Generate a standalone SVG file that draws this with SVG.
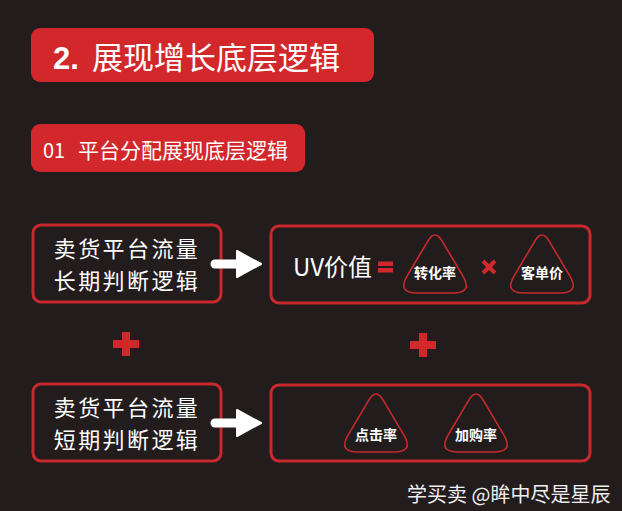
<svg xmlns="http://www.w3.org/2000/svg" width="622" height="511" viewBox="0 0 622 511">
<defs>
<style>
.cjk{font-family:"Noto Sans CJK SC","Noto Sans",sans-serif;fill:#ffffff}
.lbl{font-size:22px;letter-spacing:2.4px;text-anchor:middle}
.box{fill:none;stroke:#c8292d;stroke-width:3}
.tri{fill:none;stroke:#c8292d;stroke-width:1.6}
.red{fill:#d2282b}
</style>
<path id="tri" d="M -7.15 12.04 L -27.8 46.8 Q -38 64 -18 64 L 18 64 Q 38 64 27.8 46.8 L 7.15 12.04 Q 0 0 -7.15 12.04 Z"/>
</defs>
<rect width="622" height="511" fill="#231c1d"/>

<g id="title">
<rect x="31" y="28" width="343" height="54" rx="9" class="red"/>
<text x="53" y="69" class="cjk" font-size="31"><tspan font-weight="bold" font-family="Liberation Sans, sans-serif">2.</tspan><tspan x="92">展现增长底层逻辑</tspan></text>
</g>

<g id="subtitle">
<rect x="31" y="124" width="274" height="48" rx="9" class="red"/>
<text x="43" y="158" class="cjk" font-size="20">01<tspan x="78" font-size="21">平台分配展现底层逻辑</tspan></text>
</g>

<g id="long-term">
<rect x="33" y="225" width="188" height="77" rx="8" class="box"/>
<text x="127" y="257" class="cjk lbl">卖货平台流量</text>
<text x="127" y="289" class="cjk lbl">长期判断逻辑</text>
</g>

<g id="uv-value">
<rect x="271" y="226" width="319" height="77" rx="8" class="box"/>
<text x="293" y="276" class="cjk" font-size="24">UV价值</text>
<rect x="378" y="261.5" width="15" height="4.5" class="red"/>
<rect x="378" y="268" width="15" height="4.5" class="red"/>
</g>

<g id="conversion">
<use href="#tri" x="435" y="229" class="tri"/>
<text x="435" y="278" class="cjk" font-size="14" font-weight="bold" text-anchor="middle">转化率</text>
</g>

<g id="multiply">
<path d="M 483 261 L 495 273 M 495 261 L 483 273" stroke="#d2282b" stroke-width="4" fill="none"/>
</g>

<g id="unit-price">
<use href="#tri" x="542" y="229" class="tri"/>
<text x="542" y="278" class="cjk" font-size="14" font-weight="bold" text-anchor="middle">客单价</text>
</g>

<g id="plus-left">
<rect x="113" y="340" width="26" height="8" class="red"/>
<rect x="122" y="332" width="8" height="24" class="red"/>
</g>
<g id="plus-right">
<rect x="410" y="341" width="26" height="8" class="red"/>
<rect x="419" y="333" width="8" height="24" class="red"/>
</g>

<g id="short-term">
<rect x="33" y="384" width="188" height="77" rx="8" class="box"/>
<text x="127" y="416" class="cjk lbl">卖货平台流量</text>
<text x="127" y="448" class="cjk lbl">短期判断逻辑</text>
</g>

<g id="short-metrics">
<rect x="271" y="385" width="319" height="76" rx="8" class="box"/>
</g>

<g id="ctr">
<use href="#tri" x="376" y="388" class="tri"/>
<text x="376" y="440" class="cjk" font-size="14" font-weight="bold" text-anchor="middle">点击率</text>
</g>

<g id="add-to-cart">
<use href="#tri" x="476" y="388" class="tri"/>
<text x="476" y="440" class="cjk" font-size="14" font-weight="bold" text-anchor="middle">加购率</text>
</g>

<g id="connectors">
<path d="M 215 264 L 241 264" stroke="#ffffff" stroke-width="9" stroke-linecap="round" fill="none"/>
<path d="M 237 251 L 261 264 L 237 277 Z" fill="#ffffff" stroke="#ffffff" stroke-width="2" stroke-linejoin="round"/>
<path d="M 215 423 L 241 423" stroke="#ffffff" stroke-width="9" stroke-linecap="round" fill="none"/>
<path d="M 237 410 L 261 423 L 237 436 Z" fill="#ffffff" stroke="#ffffff" stroke-width="2" stroke-linejoin="round"/>
</g>

<text x="407" y="502" class="cjk" font-size="20" style="fill:#eeeeee">学买卖 @眸中尽是星辰</text>
</svg>
